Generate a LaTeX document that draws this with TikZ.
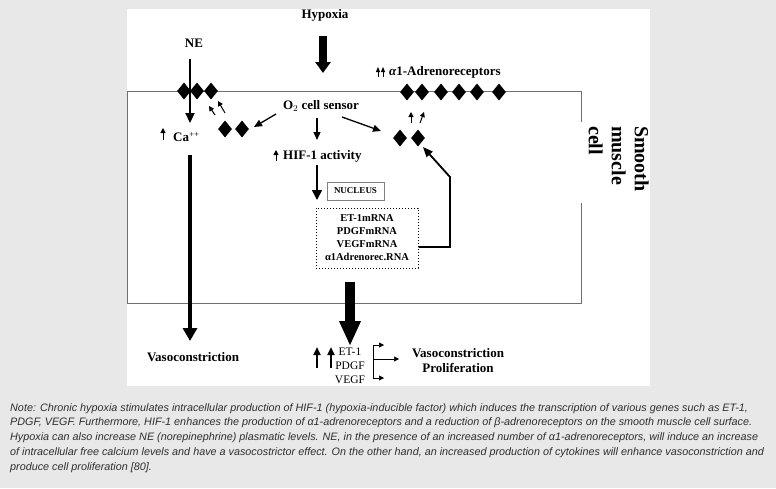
\documentclass[tikz,border=0pt]{standalone}
\usepackage{fontspec}
\setmainfont{Liberation Serif}
\newfontfamily\notefont{Liberation Sans}
\usetikzlibrary{shapes.geometric, arrows.meta, positioning}
\definecolor{pagegray}{HTML}{E8E8E8}
\definecolor{notegray}{HTML}{2E2E2E}
\definecolor{wallgray}{HTML}{707070}
\tikzset{
  receptor/.style={
    diamond,
    fill=black,
    minimum width=14pt,
    minimum height=17pt,
    inner sep=0pt
    },
  txt/.style={
    font=\fontsize{13}{15}\selectfont\bfseries,
    inner sep=0pt
    },
  thinarrow/.style={line width=1.3pt,-{Triangle[length=8pt,width=7pt]}},
  tinyarrow/.style={line width=1pt,-{Triangle[length=5pt,width=5pt]}},
  bracketarrow/.style={line width=0.6pt,-{Triangle[length=5pt,width=5pt]}},
  fatarrow/.style={line width=10pt,-{Triangle[length=25pt,width=20pt]}},
}
\tikzstyle{wall} = [draw=wallgray, line width=0.8pt]

\begin{document}
\begin{tikzpicture}[x=1pt, y=-1pt]
  \useasboundingbox (0,0) rectangle (776,488);
  \fill[pagegray] (0,0) rectangle (776,488);
  \fill[white] (127,9) rectangle (650,386);

  % cell membrane, open where the name stands
  \draw[wall] (581,122) -- (581,91) -- (127,91) -- (127,303) -- (581,303) -- (581,203);
  \node[txt, font=\fontsize{20}{23}\selectfont\bfseries, rotate=-90, anchor=north west, align=left] (cellname) at (649,126) {Smooth\\muscle\\cell};

  % texts
  \node[txt] (hypoxia) at (325,15) {Hypoxia};
  \node[txt] (ne) at (194,43) {NE};
  \node[txt] (sensor) at (321,106) {O$_2$ cell sensor};
  \node[txt, anchor=west] (ca) at (173,137) {Ca\textsuperscript{\mdseries ++}};
  \node[txt, anchor=west] (hif) at (283,156) {HIF-1 activity};
  \node[txt, anchor=west] (adreno) at (389,72) {{\itshape α}1-Adrenoreceptors};

  % receptors
  \foreach \x [count=\i] in {184,197,211}
    \node[receptor] (mem\i) at (\x,91) {};
  \foreach \x [count=\i] in {407,422,441,459,477,499}
    \node[receptor] (adr\i) at (\x,92) {};
  \node[receptor] (low1) at (225,129) {};
  \node[receptor] (low2) at (242,129) {};
  \node[receptor] (new1) at (400,138) {};
  \node[receptor] (new2) at (418,138) {};

  % nucleus
  \node[draw=gray, font=\fontsize{9}{10}\selectfont\bfseries, minimum width=57pt, minimum height=18pt, inner sep=0pt] (nucleus) at (355.5,191) {NUCLEUS};
  \node[draw, dotted, line width=1pt, align=center, font=\fontsize{10.5}{13}\selectfont\bfseries, minimum width=102pt, minimum height=60pt, inner sep=0pt] (mrna) at (367,238) {ET-1mRNA\\PDGFmRNA\\VEGFmRNA\\α1Adrenorec.RNA};

  % outcomes
  \node[txt] (vasoleft) at (193,357) {Vasoconstriction};
  \node[font=\fontsize{11.5}{14}\selectfont, align=center, inner sep=0pt] (cyto) at (350,366) {ET-1\\PDGF\\VEGF};
  \node[txt, align=center] (effect) at (458,361) {Vasoconstriction\\Proliferation};

  % free ends
  \coordinate (hypin) at (323,36);
  \coordinate (hypout) at (323,73);
  \coordinate (nein) at (190,59);
  \coordinate (neout) at (190,123);
  \coordinate (caout) at (190,155);
  \coordinate (vasotip) at (190,341);
  \coordinate (sensdown) at (317,118);
  \coordinate (hifup) at (317,140);
  \coordinate (sensleft) at (276,114);
  \coordinate (sensright) at (342,117);
  \coordinate (hifdown) at (317,165);
  \coordinate (nuctip) at (317,200);
  \coordinate (fbturn) at (450,177);
  \coordinate (fbtip) at (423,147);
  \coordinate (cytoin) at (350,282);
  \coordinate (cytotip) at (350,346);
  \coordinate (brtop) at (373,345);
  \coordinate (brmid) at (373,359);
  \coordinate (brbot) at (373,378);

  % arrows
  \draw[line width=8.5pt, -{Triangle[length=11pt,width=15pt]}] (hypin) -- (hypout);
  \draw[line width=2.2pt, -{Triangle[length=10pt,width=9pt]}] (nein) -- (neout);
  \draw[line width=4pt, -{Triangle[length=13pt,width=14pt]}] (caout) -- (vasotip);
  \draw[thinarrow] (sensdown) -- (hifup);
  \draw[thinarrow] (sensleft) -- (254,127);
  \draw[thinarrow] (sensright) -- (381,131);
  \draw[tinyarrow] (215,115) -- (209,106);
  \draw[tinyarrow] (225,113) -- (218,101);
  \draw[tinyarrow] (411,123) -- (411,112);
  \draw[tinyarrow] (420,123) -- (424,112);
  \draw[line width=1.6pt, -{Triangle[length=10pt,width=10pt]}] (hifdown) -- (nuctip);
  \draw[line width=1.8pt, -{Triangle[length=10pt,width=8pt]}] ([yshift=-9pt]mrna.east) -| (fbturn) -- (fbtip);
  \draw[fatarrow] (cytoin) -- (cytotip);

  % small up arrows
  \draw[tinyarrow] (163,140) -- (163,128);
  \draw[tinyarrow] (276,161) -- (276,150);
  \draw[line width=0.9pt, -{Triangle[length=5pt,width=4pt]}] (378,77) -- (378,67);
  \draw[line width=0.9pt, -{Triangle[length=5pt,width=4pt]}] (383,77) -- (383,67);
  \draw[line width=2pt, -{Triangle[length=8pt,width=7pt]}] (317,368) -- (317,347);
  \draw[line width=2pt, -{Triangle[length=8pt,width=7pt]}] (331,368) -- (331,347);

  % bracket to effects
  \draw[line width=0.6pt] (brtop) -- (brbot);
  \draw[bracketarrow] (brtop) -- ++(11,0);
  \draw[bracketarrow] (brmid) -- ++(26,0);
  \draw[bracketarrow] (brbot) -- ++(11,0);

  % note
  \node[font=\notefont\itshape\fontsize{10.8}{14.8}\selectfont, text=notegray, anchor=north west, align=left, inner sep=0pt] (note) at (10,403) {Note: Chronic hypoxia stimulates intracellular production of HIF-1 (hypoxia-inducible factor) which induces the transcription of various genes such as ET-1,\\PDGF, VEGF. Furthermore, HIF-1 enhances the production of α1-adrenoreceptors and a reduction of β-adrenoreceptors on the smooth muscle cell surface.\\Hypoxia can also increase NE (norepinephrine) plasmatic levels. NE, in the presence of an increased number of α1-adrenoreceptors, will induce an increase\\of intracellular free calcium levels and have a vasocostrictor effect. On the other hand, an increased production of cytokines will enhance vasoconstriction and\\produce cell proliferation [80].};
\end{tikzpicture}
\end{document}
